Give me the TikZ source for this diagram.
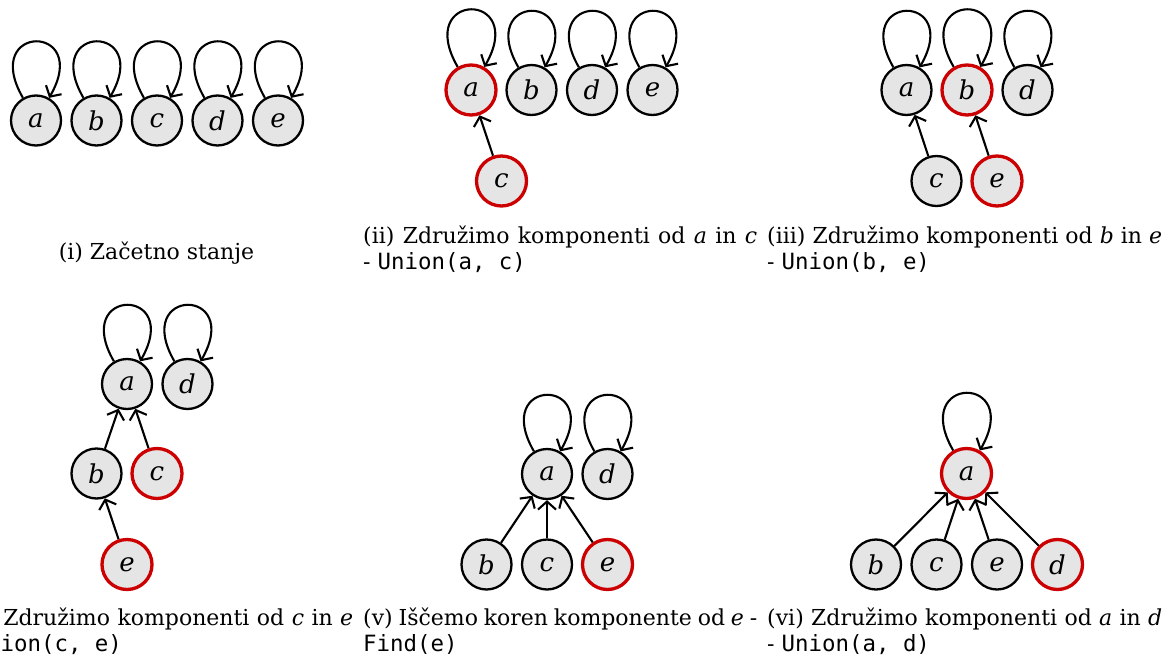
\documentclass[tikz,border=0pt]{standalone}
\usepackage{fontspec}
\setmainfont{DejaVu Serif}
\setmonofont{DejaVu Sans Mono}
\usetikzlibrary{arrows.meta}
\definecolor{nodefill}{HTML}{E5E5E5}
\definecolor{hl}{HTML}{CC0000}
\newcommand{\mycode}[1]{{\fontsize{22.4}{26}\selectfont\ttfamily #1}}
\tikzset{
  vtx/.style={circle, draw=black, line width=2.3pt, fill=nodefill, minimum size=50pt, inner sep=0pt, font=\fontsize{26}{30}\selectfont\itshape},
  hlvtx/.style={vtx, draw=hl, line width=3.3pt},
  arr/.style={line width=2.1pt, -{Straight Barb[length=8pt,width=18pt]}},
  loopto/.style={out=120, in=60, looseness=8.5},
  captxt/.style={anchor=base west, inner sep=0pt, font=\fontsize{22}{26}\selectfont},
  captxtc/.style={anchor=base, inner sep=0pt, font=\fontsize{22}{26}\selectfont},
}
\begin{document}
\begin{tikzpicture}[x=1pt,y=-1pt]
\useasboundingbox (0,0) rectangle (1167,661);
\clip (0,0) rectangle (1167,661);
% ---------- (i)
\node[vtx] (a1) at (36,120.5) {a};
\node[vtx] (b1) at (96.5,120.5) {b};
\node[vtx] (c1) at (157,120.5) {c};
\node[vtx] (d1) at (217.5,120.5) {d};
\node[vtx] (e1) at (278,120.5) {e};
\foreach \n in {a1,b1,c1,d1,e1} \draw[arr] (\n) to[loopto] (\n);
\node[captxtc] (cap1) at (156.5,259) {(i) Začetno stanje};
% ---------- (ii)
\node[hlvtx] (a2) at (471,90) {a};
\node[vtx] (b2) at (531.5,90) {b};
\node[vtx] (d2) at (592,90) {d};
\node[vtx] (e2) at (652.5,90) {e};
\node[hlvtx] (c2) at (501.5,181) {c};
\foreach \n in {a2,b2,d2,e2} \draw[arr] (\n) to[loopto] (\n);
\draw[arr] (c2) -- (a2);
\node[captxt] (cap2a) at (363,243) {\makebox[394pt][s]{(ii) Združimo komponenti od \textit{a} in \textit{c}}};
\node[captxt] (cap2b) at (363,269) {- \mycode{Union(a, c)}};
% ---------- (iii)
\node[vtx] (a3) at (906.5,90) {a};
\node[hlvtx] (b3) at (967,90) {b};
\node[vtx] (d3) at (1027.5,90) {d};
\node[vtx] (c3) at (936.5,181) {c};
\node[hlvtx] (e3) at (997,181) {e};
\foreach \n in {a3,b3,d3} \draw[arr] (\n) to[loopto] (\n);
\draw[arr] (c3) -- (a3);
\draw[arr] (e3) -- (b3);
\node[captxt] (cap3a) at (767,243) {\makebox[395pt][s]{(iii) Združimo komponenti od \textit{b} in \textit{e}}};
\node[captxt] (cap3b) at (767,269) {- \mycode{Union(b, e)}};
% ---------- (iv)
\node[vtx] (a4) at (127,384) {a};
\node[vtx] (d4) at (187.5,384) {d};
\node[vtx] (b4) at (96.5,473.5) {b};
\node[hlvtx] (c4) at (157,473.5) {c};
\node[hlvtx] (e4) at (127,564.5) {e};
\foreach \n in {a4,d4} \draw[arr] (\n) to[loopto] (\n);
\draw[arr] (b4) -- (a4);
\draw[arr] (c4) -- (a4);
\draw[arr] (e4) -- (b4);
\node[captxt] (cap4a) at (-41,625) {\makebox[394pt][s]{(iv) Združimo komponenti od \textit{c} in \textit{e}}};
\node[captxt] (cap4b) at (-41,651) {- \mycode{Union(c, e)}};
% ---------- (v)
\node[vtx] (a5) at (547,474) {a};
\node[vtx] (d5) at (607.5,474) {d};
\node[vtx] (b5) at (486.5,564.5) {b};
\node[vtx] (c5) at (547,564.5) {c};
\node[hlvtx] (e5) at (607.5,564.5) {e};
\foreach \n in {a5,d5} \draw[arr] (\n) to[loopto] (\n);
\draw[arr] (b5) -- (a5);
\draw[arr] (c5) -- (a5);
\draw[arr] (e5) -- (a5);
\node[captxt] (cap5a) at (363,625) {\makebox[394pt][s]{(v) Iščemo koren komponente od \textit{e} -}};
\node[captxt] (cap5b) at (363,651) {\mycode{Find(e)}};
% ---------- (vi)
\node[hlvtx] (a6) at (966.5,473.5) {a};
\node[vtx] (b6) at (876,564.5) {b};
\node[vtx] (c6) at (936.5,564.5) {c};
\node[vtx] (e6) at (997,564.5) {e};
\node[hlvtx] (d6) at (1057.5,564.5) {d};
\draw[arr] (a6) to[loopto] (a6);
\draw[arr] (b6) -- (a6);
\draw[arr] (c6) -- (a6);
\draw[arr] (e6) -- (a6);
\draw[arr] (d6) -- (a6);
\node[captxt] (cap6a) at (767,625) {\makebox[395pt][s]{(vi) Združimo komponenti od \textit{a} in \textit{d}}};
\node[captxt] (cap6b) at (767,651) {- \mycode{Union(a, d)}};
\end{tikzpicture}
\end{document}
